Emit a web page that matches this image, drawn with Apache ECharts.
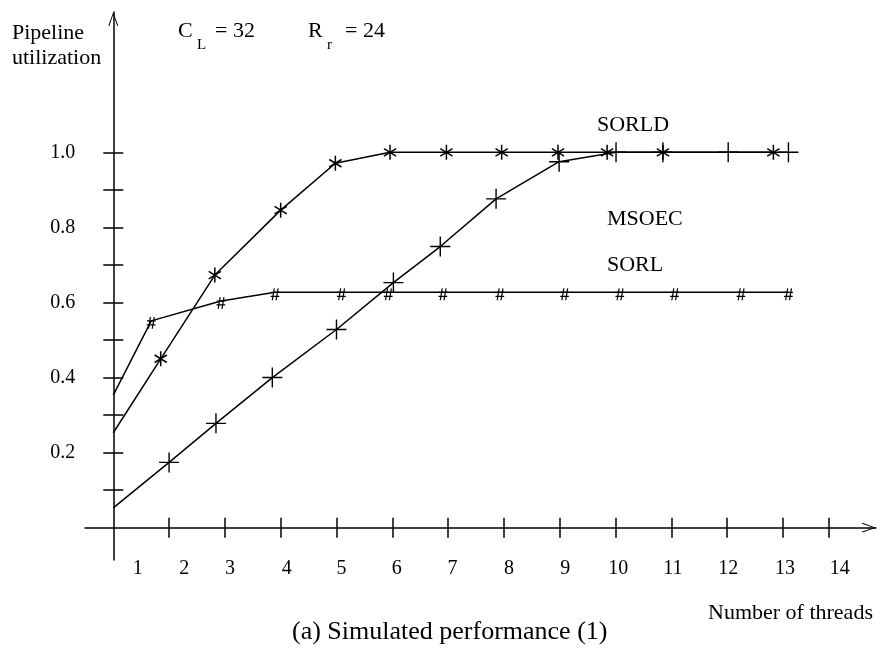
<!DOCTYPE html>
<html>
<head>
<meta charset="utf-8">
<script src="https://cdn.jsdelivr.net/npm/echarts@6/dist/echarts.min.js"></script>
<style>
  html, body { margin: 0; padding: 0; background: #fff; }
  #app { width: 880px; height: 650px; }
</style>
</head>
<body>
<div id="app"></div>
<script>
// values
const sorldX = [1, 1.85, 2.82, 4.0, 4.98, 5.96, 6.97, 7.96, 8.97, 9.85, 10.85, 12.83]
const sorldY = [0.253, 0.45, 0.673, 0.846, 0.971, 1.0, 1.0, 1.0, 1.0, 1.0, 1.0, 1.0]
const msoecX = [1, 2.0, 2.84, 3.85, 5.0, 6.02, 6.86, 7.86, 8.99, 10.01, 10.85, 12.02, 13.1]
const msoecY = [0.053, 0.174, 0.278, 0.40, 0.528, 0.653, 0.749, 0.876, 0.975, 1.0, 1.0, 1.0, 1.0]
const sorlX = [1, 1.68, 2.93, 3.9, 5.09, 5.93, 6.91, 7.93, 9.09, 10.08, 11.06, 12.25, 13.1]
const sorlY = [0.353, 0.551, 0.604, 0.627, 0.627, 0.627, 0.627, 0.627, 0.627, 0.627, 0.627, 0.627, 0.627]

const xTicks = [2, 3, 4, 5, 6, 7, 8, 9, 10, 11, 12, 13, 13.83]
const xLabelAt = [1.44, 2.27, 3.09, 4.11, 5.09, 6.08, 7.08, 8.09, 9.1, 10.05, 11.03, 12.02, 13.04, 14.02]
const yTicks = [0.1, 0.2, 0.3, 0.4, 0.5, 0.6, 0.7, 0.8, 0.9, 1.0]
const yLabels = [0.2, 0.4, 0.6, 0.8, 1.0]

const font = 'Liberation Serif'

// thin filled strokes for the marker glyphs
function bars(segs, w) {
  let d = ''
  segs.forEach(([x1, y1, x2, y2]) => {
    const len = Math.hypot(x2 - x1, y2 - y1)
    const nx = -(y2 - y1) / len * w, ny = (x2 - x1) / len * w
    d += `M${x1 + nx},${y1 + ny}L${x2 + nx},${y2 + ny}L${x2 - nx},${y2 - ny}L${x1 - nx},${y1 - ny}Z`
  })
  return 'path://' + d
}
const starPath = bars([[0, -7.5, 0, 7.5], [-6.5, -3.75, 6.5, 3.75], [-6.5, 3.75, 6.5, -3.75]], 0.8)
const plusPath = bars([[-10, 0, 10, 0], [0, -10, 0, 10]], 0.7)
const hashPath = bars([[-2.8, 6, -0.8, -6], [1, 6, 3, -6], [-4.2, -2, 4.5, -2], [-4.5, 2, 4.2, 2]], 0.6)
const arrowPath = 'path://M0,0L5,14L4,14.4L0,2.4L-4,14.4L-5,14Z'

function pts(xs, ys) {
  return xs.map((x, i) => i === 0 ? { value: [x, ys[i]], symbol: 'none' } : [x, ys[i]])
}

function line(name, xs, ys, symbol, size, offset) {
  return {
    name, type: 'line', data: pts(xs, ys),
    symbol, symbolSize: size, symbolOffset: offset || [0, 0],
    showAllSymbol: true,
    itemStyle: { color: '#000' },
    lineStyle: { color: '#000', width: 1.5 },
    emphasis: { disabled: true },
    z: 3
  }
}

const xMin = 0.493, xMax = 14.669, yMin = -0.086, yMax = 1.3738
const axisBase = { type: 'value', splitLine: { show: false } }

const chart = echarts.init(document.getElementById('app'))
chart.setOption({
  animation: false,
  backgroundColor: '#fff',
  grid: { left: 85, right: 4, top: 12, bottom: 90 },
  xAxis: [
    Object.assign({}, axisBase, {
      min: xMin, max: xMax,
      axisLine: { lineStyle: { color: '#000', width: 1.5 }, symbol: ['none', arrowPath], symbolSize: [10, 14], symbolOffset: [0, -7] },
      axisTick: { customValues: xTicks, length: 10, lineStyle: { color: '#000', width: 1.5 } },
      axisLabel: { customValues: xLabelAt, formatter: v => String(Math.round(v)), margin: -1, color: '#000', fontFamily: font, fontSize: 20 }
    }),
    Object.assign({}, axisBase, {
      min: xMin, max: xMax, position: 'bottom',
      axisLine: { show: false },
      axisTick: { customValues: xTicks, inside: true, length: 10, lineStyle: { color: '#000', width: 1.5 } },
      axisLabel: { show: false }
    })
  ],
  yAxis: [
    Object.assign({}, axisBase, {
      min: yMin, max: yMax, position: 'left', offset: -28.3,
      axisLine: { show: true, lineStyle: { color: '#000', width: 1.5 }, symbol: ['none', arrowPath], symbolSize: [10, 14], symbolOffset: [0, -7] },
      axisTick: { show: true, customValues: yTicks, length: 10, lineStyle: { color: '#000', width: 1.5 } },
      axisLabel: { customValues: yLabels, formatter: v => v.toFixed(1), margin: 38, color: '#000', fontFamily: font, fontSize: 20 }
    }),
    Object.assign({}, axisBase, {
      min: yMin, max: yMax, position: 'left', offset: -28.3,
      axisLine: { show: false },
      axisTick: { show: true, customValues: yTicks, inside: true, length: 10, lineStyle: { color: '#000', width: 1.5 } },
      axisLabel: { show: false }
    })
  ],
  series: [
    line('SORLD', sorldX, sorldY, starPath, [13, 15]),
    line('MSOEC', msoecX, msoecY, plusPath, [20, 20]),
    line('SORL', sorlX, sorlY, hashPath, [9, 12], [0, 2])
  ],
  graphic: [
    { type: 'text', left: 12, top: 22, style: { text: 'Pipeline', font: `22px "${font}"`, fill: '#000' } },
    { type: 'text', left: 12, top: 47, style: { text: 'utilization', font: `22px "${font}"`, fill: '#000' } },
    { type: 'text', left: 178, top: 20, style: { text: 'C', font: `22px "${font}"`, fill: '#000' } },
    { type: 'text', left: 197, top: 38, style: { text: 'L', font: `15px "${font}"`, fill: '#000' } },
    { type: 'text', left: 215, top: 20, style: { text: '= 32', font: `22px "${font}"`, fill: '#000' } },
    { type: 'text', left: 308, top: 20, style: { text: 'R', font: `22px "${font}"`, fill: '#000' } },
    { type: 'text', left: 327, top: 38, style: { text: 'r', font: `15px "${font}"`, fill: '#000' } },
    { type: 'text', left: 345, top: 20, style: { text: '= 24', font: `22px "${font}"`, fill: '#000' } },
    { type: 'text', left: 597, top: 114, style: { text: 'SORLD', font: `22px "${font}"`, fill: '#000' } },
    { type: 'text', left: 607, top: 208, style: { text: 'MSOEC', font: `22px "${font}"`, fill: '#000' } },
    { type: 'text', left: 607, top: 254, style: { text: 'SORL', font: `22px "${font}"`, fill: '#000' } },
    { type: 'text', left: 708, top: 602, style: { text: 'Number of threads', font: `22px "${font}"`, fill: '#000' } },
    { type: 'text', left: 292, top: 619, style: { text: '(a) Simulated performance (1)', font: `26px "${font}"`, fill: '#000' } }
  ]
})
</script>
</body>
</html>
